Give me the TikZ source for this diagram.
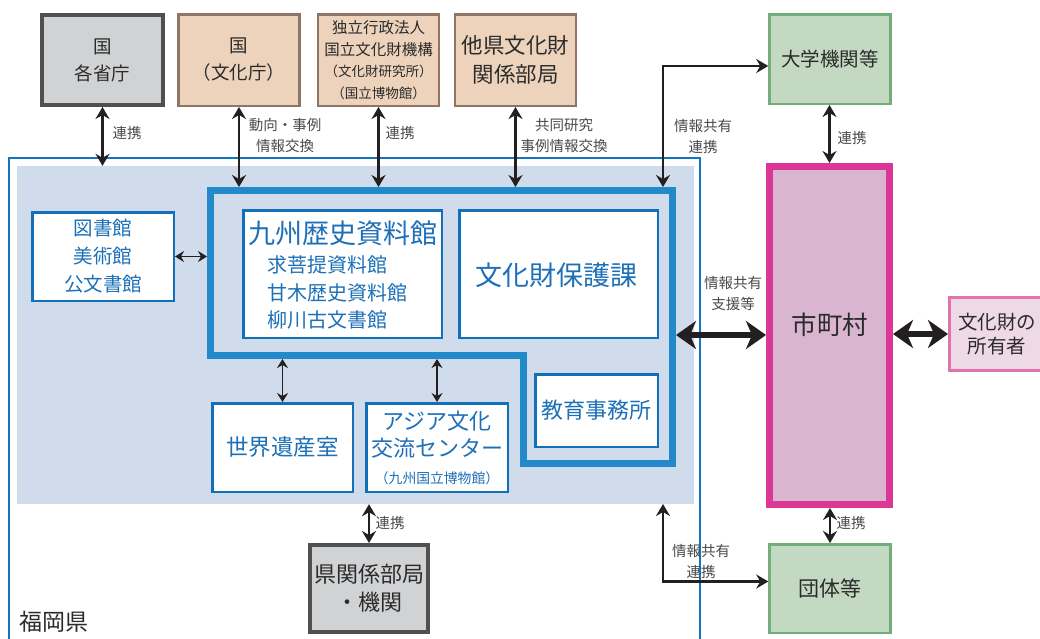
\documentclass[tikz,border=0pt]{standalone}
\usepackage{fontspec}
\setmainfont{Noto Sans CJK JP}
\usetikzlibrary{arrows.meta}

\definecolor{regionfill}{HTML}{D0DBEC}
\definecolor{outerblue}{HTML}{0F77C2}
\definecolor{coreblue}{HTML}{2289CA}
\definecolor{boxblue}{HTML}{1170B8}
\definecolor{textblue}{HTML}{1D70B7}
\definecolor{grayfill}{HTML}{D1D2D4}
\definecolor{grayline}{HTML}{505050}
\definecolor{tanfill}{HTML}{EDD3BB}
\definecolor{tanline}{HTML}{8F7565}
\definecolor{greenfill}{HTML}{C3D9C2}
\definecolor{greenline}{HTML}{72AE7B}
\definecolor{magline}{HTML}{DD3796}
\definecolor{magfill}{HTML}{D9B5CF}
\definecolor{pinkline}{HTML}{E271AE}
\definecolor{pinkfill}{HTML}{EED9E6}
\definecolor{arrdark}{HTML}{231F20}
\definecolor{labgray}{HTML}{4A4A4A}
\definecolor{darktext}{HTML}{2B2B2B}

\tikzset{
  box/.style={draw, align=center, inner sep=0pt, text=darktext,
    minimum width=121pt, minimum height=91.5pt},
  graybox/.style={box, fill=grayfill, draw=grayline, line width=4pt},
  tanbox/.style={box, fill=tanfill, draw=tanline, line width=2.5pt},
  greenbox/.style={box, fill=greenfill, draw=greenline, line width=2.5pt},
  bluebox/.style={draw=boxblue, fill=white, line width=2.5pt, text=textblue,
    align=center, inner sep=0pt},
  bluetext/.style={text=textblue, align=center, inner sep=0pt},
  lab/.style={text=labgray, font=\fontsize{14.5}{21}\selectfont, align=center, inner sep=0pt},
  arr/.style={draw=arrdark, line width=2.5pt,
    {Stealth[length=12pt,width=14pt,inset=4pt]}-{Stealth[length=12pt,width=14pt,inset=4pt]}},
  sarr/.style={draw=arrdark, line width=1.6pt,
    {Stealth[length=9pt,width=11pt,inset=3pt]}-{Stealth[length=9pt,width=11pt,inset=3pt]}},
  bigarr/.style={draw=arrdark, line width=6pt,
    {Stealth[length=20pt,width=28pt,inset=6pt]}-{Stealth[length=20pt,width=28pt,inset=6pt]}}
}

\begin{document}
\begin{tikzpicture}[x=1pt, y=-1pt]
    \useasboundingbox (0,0) rectangle (1040,638);

    % prefecture frame
    \draw[outerblue, line width=2pt] (9,650) -- (9,158) -- (700,158) -- (700,650);
    \node (pref) at (355.5,335) [fill=regionfill, minimum width=677pt, minimum height=338pt, inner sep=0pt] {};
    \node (fukuoka) at (19,622) [anchor=west, inner sep=0pt, text=darktext, font=\fontsize{23}{28}\selectfont] {福岡県};

    % core group
    \draw[coreblue, line width=7pt] (210.5,190.5) -- (672.5,190.5) -- (672.5,463.5) -- (523.5,463.5)
      -- (523.5,355.5) -- (210.5,355.5) -- cycle;
    \coordinate (coreN) at (440,187);
    \coordinate (coreW) at (207,260);
    \coordinate (coreS) at (360,359);
    \coordinate (coreE) at (676,335);
    \coordinate (infoUp) at (663,187);
    \coordinate (infoDn) at (663,504);

    \node (kyushu) at (342.5,274) [bluebox, minimum width=198.5pt, minimum height=127.5pt] {};
    \node (kyushuT) at (343,233) [bluetext, font=\fontsize{27}{30}\selectfont] {九州歴史資料館};
    \node (kyushuS) at (267,292.5) [bluetext, anchor=west, align=left, font=\fontsize{20}{27.5}\selectfont] {求菩提資料館\\甘木歴史資料館\\柳川古文書館};

    \node (hogo) at (558.5,274) [bluebox, minimum width=198.5pt, minimum height=127.5pt] {};
    \node (hogoT) at (556,275) [bluetext, font=\fontsize{27}{30}\selectfont] {文化財保護課};

    \node (kyoiku) at (596.5,410.5) [bluebox, minimum width=122.5pt, minimum height=72.5pt, font=\fontsize{22}{27}\selectfont] {教育事務所};

    \node (tosho) at (103,256.5) [bluebox, minimum width=141.5pt, minimum height=88.5pt, font=\fontsize{19.5}{28}\selectfont] {図書館\\美術館\\公文書館};
    \draw[sarr] (tosho.east) -- (tosho.east -| coreW);

    \node (isan) at (282.5,447.5) [bluebox, minimum width=140.5pt, minimum height=88.5pt, font=\fontsize{22.5}{27}\selectfont] {世界遺産室};
    \draw[sarr] (isan.north) -- (isan.north |- coreS);

    \node (asia) at (437,447.5) [bluebox, minimum width=141.5pt, minimum height=88.5pt, font=\fontsize{22}{27}\selectfont] {アジア文化\\交流センター\\{\fontsize{13.8}{16}\selectfont （九州国立博物館）}};
    \draw[sarr] (asia.north) -- (asia.north |- coreS);

    % top row
    \node (kakusho) at (102.5,60) [graybox, minimum height=90pt, font=\fontsize{18.5}{27}\selectfont] {国\\各省庁};
    \draw[arr] (kakusho.south) -- (kakusho.south |- pref.north);
    \node (l1) at (127,133) [lab] {連携};

    \node (bunka) at (239,60) [tanbox, font=\fontsize{18.5}{27}\selectfont] {国\\（文化庁）};
    \draw[arr] (bunka.south) -- (bunka.south |- coreN);
    \node (l2) at (285,135) [lab] {動向・事例\\情報交換};

    \node (bunkazai) at (378.5,60) [tanbox, font=\fontsize{15.5}{21.5}\selectfont] {独立行政法人\\国立文化財機構\\{\fontsize{13.5}{18}\selectfont （文化財研究所）}\\{\fontsize{13.5}{18}\selectfont （国立博物館）}};
    \draw[arr] (bunkazai.south) -- (bunkazai.south |- coreN);
    \node (l3) at (400,133) [lab] {連携};

    \node (taken) at (515.5,60) [tanbox, font=\fontsize{21.5}{29}\selectfont] {他県文化財\\関係部局};
    \draw[arr] (taken.south) -- (taken.south |- coreN);
    \node (l4) at (564,135.5) [lab] {共同研究\\事例情報交換};

    % right side
    \node (daigaku) at (830,59) [greenbox, minimum height=89.5pt, font=\fontsize{19.5}{24}\selectfont] {大学機関等};
    \draw[arr] (infoUp) |- ([yshift=-7pt]daigaku.west);
    \node (l5) at (703,136.5) [lab] {情報共有\\連携};

    \node (shichoson) at (829.5,335.5) [box, fill=magfill, draw=magline, line width=7pt, minimum width=120pt, minimum height=338pt] {};
    \node (shichosonT) at (830,325) [inner sep=0pt, text=darktext, font=\fontsize{25.5}{30}\selectfont] {市町村};
    \draw[arr] (daigaku.south -| shichoson) -- (shichoson.north);
    \node (l6) at (852,138) [lab] {連携};

    \draw[bigarr] (coreE) -- (shichoson.west |- coreE);
    \node (l7) at (733,293.5) [lab] {情報共有\\支援等};

    \node (shoyu) at (997,334) [box, fill=pinkfill, draw=pinkline, line width=3pt, minimum width=95pt, minimum height=73pt, font=\fontsize{19.5}{24}\selectfont] {文化財の\\所有者};
    \draw[bigarr] (shichoson.east |- shoyu) -- (shoyu.west);

    \node (dantai) at (830,588.5) [greenbox, minimum height=88.5pt, font=\fontsize{21}{26}\selectfont] {団体等};
    \draw[arr] (shichoson.south -| dantai) -- (dantai.north);
    \node (l8) at (851,523) [lab] {連携};

    \draw[arr] (infoDn) |- ([yshift=7pt]dantai.west);
    \node (l9) at (701,561) [lab] {情報共有\\連携};

    % bottom
    \node (kenkankei) at (369,588.5) [graybox, minimum width=118pt, minimum height=87pt, font=\fontsize{22}{28}\selectfont] {県関係部局\\・機関};
    \draw[arr] (kenkankei.north) -- (kenkankei.north |- pref.south);
    \node (l10) at (390,523) [lab] {連携};
\end{tikzpicture}
\end{document}
